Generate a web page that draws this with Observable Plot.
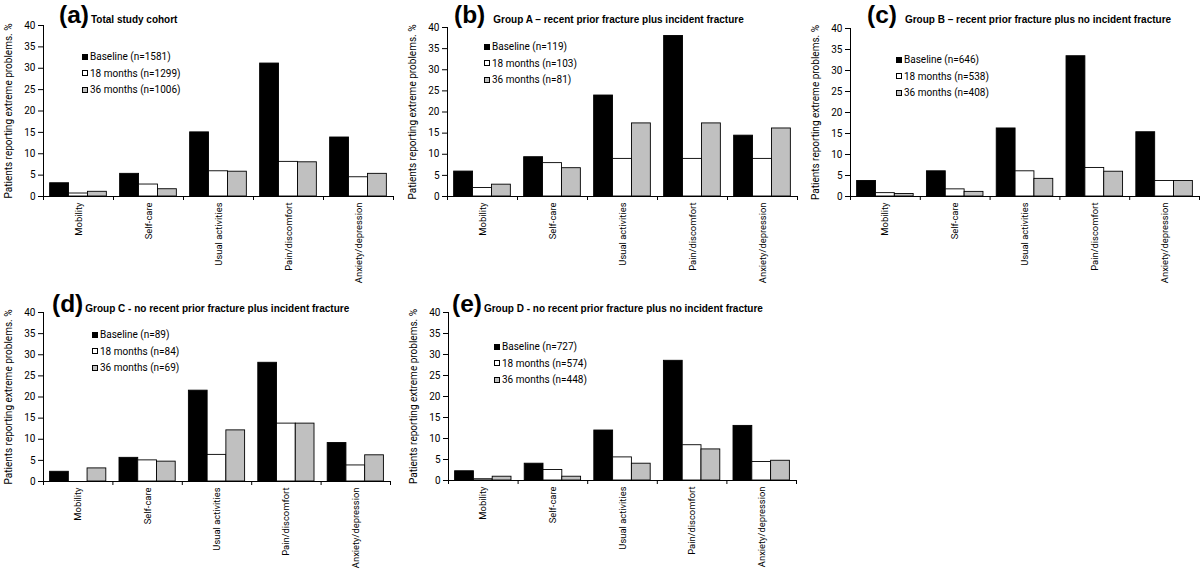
<!DOCTYPE html>
<html>
<head>
<meta charset="utf-8">
<script src="https://cdn.jsdelivr.net/npm/d3@7"></script>
<script src="https://cdn.jsdelivr.net/npm/@observablehq/plot@0.6"></script>
<style>
  html, body { margin: 0; padding: 0; background: #fff; }
  #page { position: relative; width: 1200px; height: 569px; overflow: hidden; font-family: Roboto, Arial, sans-serif; }
  .panel { position: absolute; }
  .title { position: absolute; display: flex; align-items: baseline; line-height: 1; white-space: nowrap; color: #000; font-family: Arial, Helvetica, sans-serif; }
  .title .letter { font-size: 24.5px; font-weight: bold; }
  .title .sub { font-size: 10px; font-weight: bold; margin-left: 3px; }
  .legend { position: absolute; font-size: 10px; color: #000; }
  .legend .row { display: flex; align-items: center; height: 16.3px; white-space: nowrap; }
  .legend .sw { width: 4px; height: 4px; border: 1px solid #000; margin-right: 2px; flex: none; }
</style>
</head>
<body>
<div id="page"></div>
<script>
// ---- Data ----
const categories = ["Mobility", "Self-care", "Usual activities", "Pain/discomfort", "Anxiety/depression"];
const seriesNames = ["Baseline", "18 months", "36 months"];
const yTicks = [0, 5, 10, 15, 20, 25, 30, 35, 40];
const yLabel = "Patients reporting extreme problems. %";

const panelLetters = ["(a)", "(b)", "(c)", "(d)", "(e)"];
const panelTitles = [
  "Total study cohort",
  "Group A \u2013 recent prior fracture plus incident fracture",
  "Group B \u2013 recent prior fracture plus no incident fracture",
  "Group C - no recent prior fracture plus incident fracture",
  "Group D - no recent prior fracture plus no incident fracture"
];

// sample sizes per panel: baseline, 18 months, 36 months
const nTotal = [1581, 1299, 1006];
const nGroupA = [119, 103, 81];
const nGroupB = [646, 538, 408];
const nGroupC = [89, 84, 69];
const nGroupD = [727, 574, 448];

// values (%) per category, one array per time point
const totalBaseline = [3.1, 5.3, 15.0, 31.1, 13.8];
const total18 = [0.7, 2.8, 5.9, 8.1, 4.5];
const total36 = [1.1, 1.7, 5.8, 8.0, 5.3];

const groupABaseline = [5.9, 9.3, 23.9, 38.0, 14.4];
const groupA18 = [2.0, 7.9, 8.9, 8.9, 8.9];
const groupA36 = [2.8, 6.7, 17.3, 17.3, 16.1];

const groupBBaseline = [3.7, 6.0, 16.2, 33.4, 15.3];
const groupB18 = [0.8, 1.7, 6.0, 6.8, 3.7];
const groupB36 = [0.6, 1.1, 4.2, 5.9, 3.7];

const groupCBaseline = [2.3, 5.6, 21.5, 28.1, 9.1];
const groupC18 = [0.0, 5.0, 6.3, 13.7, 3.8];
const groupC36 = [3.1, 4.7, 12.1, 13.7, 6.2];

const groupDBaseline = [2.2, 4.0, 11.9, 28.5, 13.0];
const groupD18 = [0.3, 2.5, 5.5, 8.4, 4.4];
const groupD36 = [0.9, 0.9, 4.0, 7.4, 4.7];

const panelValues = [
  [totalBaseline, total18, total36],
  [groupABaseline, groupA18, groupA36],
  [groupBBaseline, groupB18, groupB36],
  [groupCBaseline, groupC18, groupC36],
  [groupDBaseline, groupD18, groupD36]
];
const panelN = [nTotal, nGroupA, nGroupB, nGroupC, nGroupD];

// ---- Styles / layout ----
const seriesColors = ["#000000", "#ffffff", "#c0c0c0"];
// plot area: y-axis x, top (40%) y, zero y, right end x
const layout = [
  {ax: 43,  top: 25,  zero: 196, end: 393},
  {ax: 447, top: 27,  zero: 196, end: 797},
  {ax: 850, top: 28,  zero: 196, end: 1199},
  {ax: 43,  top: 312, zero: 481, end: 390},
  {ax: 448, top: 312, zero: 480, end: 796}
];
const titlePos = [
  {x: 59, base: 24, gap: 2},
  {x: 454, base: 24, gap: 8},
  {x: 867, base: 24, gap: 8},
  {x: 52, base: 313, gap: 2},
  {x: 452, base: 313, gap: 2}
];
const legendPos = [
  {x: 82, y: 57},
  {x: 484, y: 47},
  {x: 896, y: 60},
  {x: 92, y: 335},
  {x: 494, y: 347}
];

const GAP = 0.095;
const BAR = (1 - 2 * GAP) / 3;
const ML = 43, MT = 25, MB = 88, MR = 3;

const page = document.getElementById("page");

panelValues.forEach((vals, p) => {
  const L = layout[p];
  const rows = [];
  categories.forEach((c, i) => seriesNames.forEach((s, j) => rows.push({cat: c, ci: i, si: j, series: s, value: vals[j][i]})));
  const width = (L.end - L.ax) + ML + MR;
  const height = (L.zero - L.top) + MT + MB;
  const chart = Plot.plot({
    width, height,
    marginLeft: ML, marginTop: MT, marginBottom: MB, marginRight: MR,
    style: {background: "transparent", fontFamily: "Roboto, Arial, sans-serif", fontSize: "10px", color: "#000", overflow: "visible", maxWidth: "none"},
    x: {domain: [0, categories.length], axis: null},
    y: {domain: [0, 40], axis: null},
    marks: [
      Plot.rectY(rows, {
        x1: d => d.ci + GAP + d.si * BAR,
        x2: d => d.ci + GAP + (d.si + 1) * BAR,
        y: "value",
        fill: d => seriesColors[d.si],
        stroke: "#000",
        strokeWidth: 0.9
      }),
      Plot.ruleY([0], {stroke: "#000", strokeWidth: 1}),
      Plot.ruleX([0], {stroke: "#000", strokeWidth: 1}),
      Plot.axisY({ticks: yTicks, tickSize: 5, tickPadding: 3, label: null, stroke: "#000", fill: "#000"}),
      Plot.axisX({ticks: d3.range(0, categories.length + 1), tickSize: 4, tickFormat: () => "", label: null, stroke: "#000"}),
      Plot.text(categories, {x: (d, i) => i + 0.5, frameAnchor: "bottom", rotate: -90, textAnchor: "end", lineAnchor: "middle", dy: 6, fontSize: 9.4, fill: "#000"}),
      Plot.text([yLabel], {frameAnchor: "left", rotate: -90, textAnchor: "middle", lineAnchor: "middle", dx: -35, fill: "#000"})
    ]
  });
  chart.classList.add("panel");
  chart.style.left = (L.ax - ML) + "px";
  chart.style.top = (L.top - MT) + "px";
  page.appendChild(chart);

  // title
  const T = titlePos[p];
  const t = document.createElement("div");
  t.className = "title";
  t.style.left = T.x + "px";
  t.style.top = (T.base - 0.8465 * 24.5) + "px";
  const l = document.createElement("span");
  l.className = "letter";
  l.textContent = panelLetters[p];
  const s = document.createElement("span");
  s.className = "sub";
  s.style.marginLeft = T.gap + "px";
  s.textContent = panelTitles[p];
  t.appendChild(l); t.appendChild(s);
  page.appendChild(t);

  // legend
  const G = legendPos[p];
  const lg = document.createElement("div");
  lg.className = "legend";
  lg.style.left = G.x + "px";
  lg.style.top = (G.y - 8.15) + "px";
  seriesNames.forEach((name, j) => {
    const r = document.createElement("div");
    r.className = "row";
    const sw = document.createElement("span");
    sw.className = "sw";
    sw.style.background = seriesColors[j];
    const tx = document.createElement("span");
    tx.textContent = `${name} (n=${panelN[p][j]})`;
    r.appendChild(sw); r.appendChild(tx);
    lg.appendChild(r);
  });
  page.appendChild(lg);
});
</script>
</body>
</html>
